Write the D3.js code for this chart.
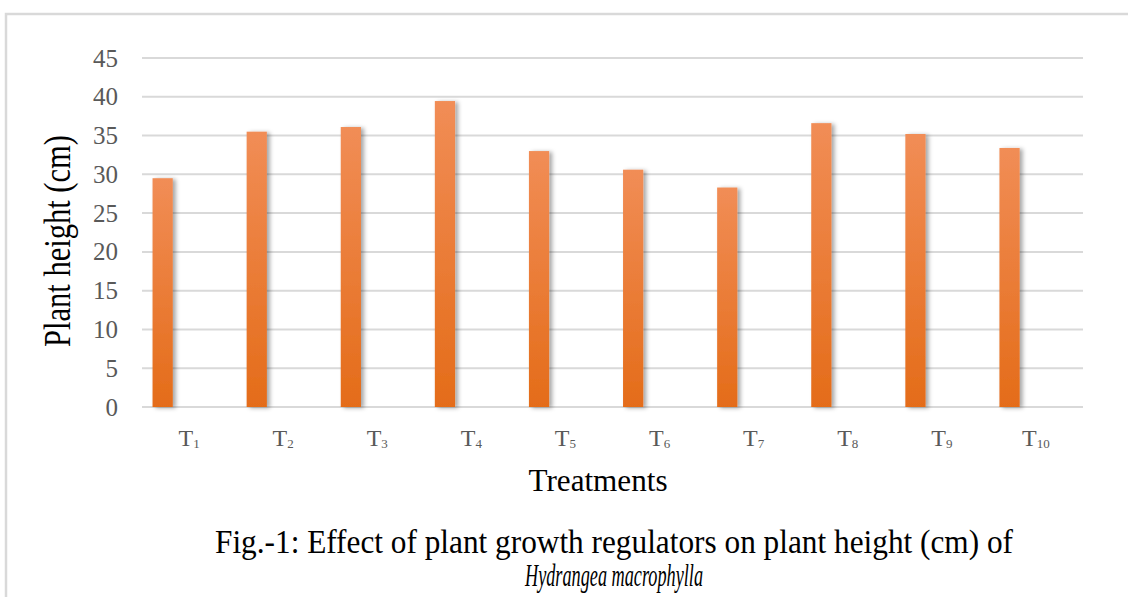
<!DOCTYPE html>
<html>
<head>
<meta charset="utf-8">
<script src="https://cdn.jsdelivr.net/npm/d3@7"></script>
</head>
<body style="margin:0;background:#fff">
<div id="chart"></div>
<script>
// Plant height per treatment
const treatments = ['1', '2', '3', '4', '5', '6', '7', '8', '9', '10'];
const heights = [29.5, 35.5, 36.1, 39.45, 33.0, 30.6, 28.3, 36.6, 35.2, 33.4];
const yTicks = [0, 5, 10, 15, 20, 25, 30, 35, 40, 45];

const width = 1128, height = 597;
const margin = { top: 58, left: 142, right: 45, bottom: 190 };
const serif = 'Liberation Serif';

const svg = d3.select('#chart')
  .append('svg')
  .attr('width', width)
  .attr('height', height)
  .style('display', 'block');

// bar fill and the soft grey shadow on the right of the bars
const defs = svg.append('defs');
const grad = defs.append('linearGradient')
  .attr('id', 'barGrad')
  .attr('x1', 0).attr('y1', 0).attr('x2', 0).attr('y2', 1);
grad.append('stop').attr('offset', '0%').attr('stop-color', '#f18d56');
grad.append('stop').attr('offset', '100%').attr('stop-color', '#e46c19');

const shadow = defs.append('filter')
  .attr('id', 'shadow')
  .attr('x', '-50%').attr('y', '-10%')
  .attr('width', '200%').attr('height', '120%');
shadow.append('feDropShadow')
  .attr('dx', 3).attr('dy', 1)
  .attr('stdDeviation', 2)
  .attr('flood-color', '#000')
  .attr('flood-opacity', 0.35);

// outer frame (only top and left edges visible)
svg.append('path')
  .attr('d', `M6,${height} L6,14 L${width},14`)
  .attr('fill', 'none')
  .attr('stroke', '#d9d9d9')
  .attr('stroke-width', 2.5);

const x = d3.scaleBand()
  .domain(treatments)
  .range([margin.left, width - margin.right])
  .padding(0);

const y = d3.scaleLinear()
  .domain([0, 45])
  .range([height - margin.bottom, margin.top]);

// gridlines
svg.append('g')
  .selectAll('line')
  .data(yTicks)
  .enter()
  .append('line')
  .attr('x1', margin.left)
  .attr('x2', width - margin.right)
  .attr('y1', d => y(d))
  .attr('y2', d => y(d))
  .attr('stroke', '#d9d9d9')
  .attr('stroke-width', 2);

// y tick labels
svg.append('g')
  .selectAll('text')
  .data(yTicks)
  .enter()
  .append('text')
  .attr('x', 118)
  .attr('y', d => y(d) + 8.5)
  .attr('text-anchor', 'end')
  .attr('fill', '#595959')
  .attr('font-family', serif)
  .attr('font-size', 25)
  .text(d => d);

// bars
svg.append('g')
  .selectAll('rect')
  .data(heights)
  .enter()
  .append('rect')
  .attr('x', (d, i) => x(treatments[i]) + x.bandwidth() * 0.112)
  .attr('width', x.bandwidth() * 0.215)
  .attr('y', d => y(d))
  .attr('height', d => y(0) - y(d))
  .attr('fill', 'url(#barGrad)')
  .attr('filter', 'url(#shadow)');

// x tick labels: T with subscript
const xl = svg.append('g')
  .selectAll('text')
  .data(treatments)
  .enter()
  .append('text')
  .attr('x', d => x(d) + x.bandwidth() / 2)
  .attr('y', 446)
  .attr('text-anchor', 'middle')
  .attr('fill', '#595959')
  .attr('font-family', serif)
  .attr('font-size', 24);
xl.append('tspan').text('T');
xl.append('tspan')
  .attr('dy', 2)
  .attr('font-size', 13)
  .text(d => d);

// axis titles
svg.append('text')
  .attr('transform', 'translate(70,241) rotate(-90)')
  .attr('text-anchor', 'middle')
  .attr('fill', '#000')
  .attr('font-family', serif)
  .attr('font-size', 38)
  .attr('textLength', 212)
  .attr('lengthAdjust', 'spacingAndGlyphs')
  .text('Plant height (cm)');

svg.append('text')
  .attr('x', 598)
  .attr('y', 491)
  .attr('text-anchor', 'middle')
  .attr('fill', '#000')
  .attr('font-family', serif)
  .attr('font-size', 32)
  .attr('textLength', 139)
  .attr('lengthAdjust', 'spacingAndGlyphs')
  .text('Treatments');

// caption
svg.append('text')
  .attr('x', 614)
  .attr('y', 553)
  .attr('text-anchor', 'middle')
  .attr('fill', '#000')
  .attr('font-family', serif)
  .attr('font-size', 34)
  .attr('textLength', 798)
  .attr('lengthAdjust', 'spacingAndGlyphs')
  .text('Fig.-1: Effect of plant growth regulators on plant height (cm) of');

svg.append('text')
  .attr('x', 614)
  .attr('y', 586)
  .attr('text-anchor', 'middle')
  .attr('fill', '#000')
  .attr('font-family', serif)
  .attr('font-size', 31)
  .attr('font-style', 'italic')
  .attr('textLength', 178)
  .attr('lengthAdjust', 'spacingAndGlyphs')
  .text('Hydrangea macrophylla');
</script>
</body>
</html>
